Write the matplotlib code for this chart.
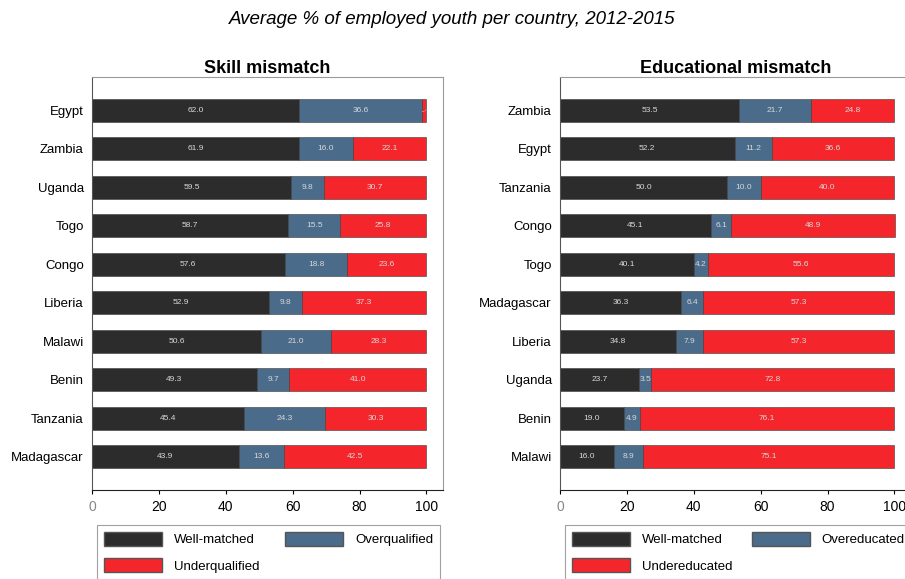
import numpy as np
import matplotlib
matplotlib.use("Agg")
import matplotlib.pyplot as plt
from matplotlib.patches import Patch

plt.rcParams['font.family'] = ['Liberation Sans', 'DejaVu Sans']

# skill mismatch panel
skill_countries = ["Egypt", "Zambia", "Uganda", "Togo", "Congo",
                   "Liberia", "Malawi", "Benin", "Tanzania", "Madagascar"]
skill_well = [62.0, 61.9, 59.5, 58.7, 57.6, 52.9, 50.6, 49.3, 45.4, 43.9]
skill_over = [36.6, 16.0, 9.8, 15.5, 18.8, 9.8, 21.0, 9.7, 24.3, 13.6]
skill_under = [1.4, 22.1, 30.7, 25.8, 23.6, 37.3, 28.3, 41.0, 30.3, 42.5]

# educational mismatch panel
edu_countries = ["Zambia", "Egypt", "Tanzania", "Congo", "Togo",
                 "Madagascar", "Liberia", "Uganda", "Benin", "Malawi"]
edu_well = [53.5, 52.2, 50.0, 45.1, 40.1, 36.3, 34.8, 23.7, 19.0, 16.0]
edu_over = [21.7, 11.2, 10.0, 6.1, 4.2, 6.4, 7.9, 3.5, 4.9, 8.9]
edu_under = [24.8, 36.6, 40.0, 48.9, 55.6, 57.3, 57.3, 72.8, 76.1, 75.1]

xticks = [0, 20, 40, 60, 80, 100]

c_well = "#2c2c2c"
c_over = "#4a6b8a"
c_under = "#f5262b"
c_text = "#d8d8d8"

fig = plt.figure(figsize=(9.05, 5.79), dpi=100)
fig.text(0.5, 1 - 20 / 579, "Average % of employed youth per country, 2012-2015",
         ha="center", va="center", style="italic", fontsize=13.5)


def panel(rect, title, countries, well, over, under, labels, colsp):
    ax = fig.add_axes(rect)
    y = np.arange(len(countries))
    well = np.array(well)
    over = np.array(over)
    under = np.array(under)
    segs = [(well, 0, c_well), (over, well, c_over), (under, well + over, c_under)]
    for vals, left, col in segs:
        bars = ax.barh(y, vals, left=left, height=0.6, color=col,
                       edgecolor="#3a3a3a", linewidth=0.4)
        texts = ax.bar_label(bars, labels=[f"{v:.1f}" for v in vals],
                             label_type="center", color=c_text, fontsize=6)
        for t, b in zip(texts, bars):
            t.set_clip_path(b)
    ax.set_xlim(0, 105)
    ax.set_ylim(len(countries) - 0.14, -0.86)
    ax.set_yticks(y)
    ax.set_yticklabels(countries, fontsize=9.5)
    ax.tick_params(axis="y", length=0, pad=6)
    ax.set_xticks(xticks)
    ax.set_xticklabels([str(v) for v in xticks], fontsize=10)
    ax.tick_params(axis="x", length=3, width=0.8, pad=4)
    for s in ["top", "right"]:
        ax.spines[s].set_color("#9a9a9a")
    ax.spines["left"].set_color("#555555")
    ax.spines["bottom"].set_color("#222222")
    ax.set_title(title, fontweight="bold", fontsize=13, pad=3)
    ax.get_xticklabels()[0].set_color("#888888")
    handles = [Patch(facecolor=c_well, edgecolor="#555555", label=labels[0]),
               Patch(facecolor=c_under, edgecolor="#555555", label=labels[2]),
               Patch(facecolor=c_over, edgecolor="#555555", label=labels[1])]
    leg = fig.legend(handles=handles, ncol=2, loc="upper left",
                     bbox_to_anchor=(rect[0] + 5 / 905, 1 - 525 / 579),
                     borderaxespad=0, fancybox=False, fontsize=9.5,
                     handlelength=4.4, handleheight=1.3, handletextpad=0.9,
                     labelspacing=0.9, columnspacing=colsp, borderpad=0.5)
    leg.get_frame().set_edgecolor("#8a8a8a")
    leg.get_frame().set_linewidth(0.8)
    return ax


panel([92 / 905, 1 - 490 / 579, 0.388, 0.713], "Skill mismatch",
      skill_countries, skill_well, skill_over, skill_under,
      ["Well-matched", "Overqualified", "Underqualified"], 2.0)
panel([560 / 905, 1 - 490 / 579, 0.388, 0.713], "Educational mismatch",
      edu_countries, edu_well, edu_over, edu_under,
      ["Well-matched", "Overeducated", "Undereducated"], 1.5)

fig.savefig("out.png", dpi=100)
